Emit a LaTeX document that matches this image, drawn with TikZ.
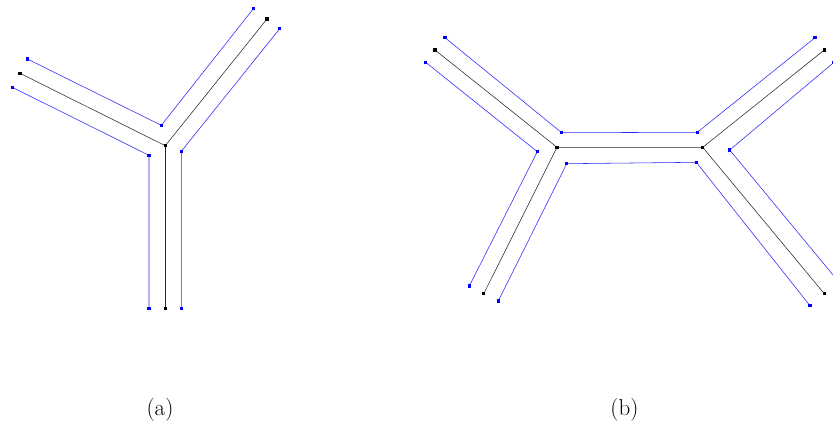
\documentclass[tikz,border=0pt]{standalone}
\begin{document}
\begin{tikzpicture}[x=1pt,y=-1pt,
  bline/.style={draw=blue!85!white,line width=0.55pt},
  kline/.style={draw=black!85,line width=0.55pt},
  bdot/.style={fill=blue,rectangle,minimum size=3.2pt,inner sep=0pt},
  kdot/.style={fill=black,rectangle,minimum size=3.2pt,inner sep=0pt},
  lab/.style={font=\fontsize{23}{28}\selectfont,inner sep=0pt}]
\clip (0,0) rectangle (833,423);
\useasboundingbox (0,0) rectangle (833,423);
% ---------- (a) ----------
\coordinate (K0) at (165.3,145.7);
\coordinate (Ka) at (20,73.3);
\coordinate (Kb) at (267,19);
\coordinate (Kc) at (165.3,308.3);
\coordinate (A1) at (27.3,59);
\coordinate (A2) at (161.3,125.3);
\coordinate (A3) at (253.7,8.3);
\coordinate (B1) at (12.3,87.3);
\coordinate (B2) at (149,155.3);
\coordinate (B3) at (149,308.3);
\coordinate (C1) at (279.7,28.7);
\coordinate (C2) at (181.3,151.3);
\coordinate (C3) at (181.3,308.3);
\draw[kline] (Ka) -- (K0) -- (Kb);
\draw[kline] (K0) -- (Kc);
\draw[bline] (A1) -- (A2) -- (A3);
\draw[bline] (B1) -- (B2) -- (B3);
\draw[bline] (C1) -- (C2) -- (C3);
\foreach \n in {K0,Ka,Kb,Kc} \node[kdot] (d\n) at (\n) {};
\foreach \n in {A1,A2,A3,B1,B2,B3,C1,C2,C3} \node[bdot] (d\n) at (\n) {};
% ---------- (b) ----------
\coordinate (L) at (557,147.3);
\coordinate (R) at (702.7,147.3);
\coordinate (L1) at (435,50);
\coordinate (L2) at (483.7,293.7);
\coordinate (R1) at (824.3,50);
\coordinate (R2) at (824.3,293.7);
\coordinate (U1) at (445,37.7);
\coordinate (U2) at (561.7,132.7);
\coordinate (U3) at (697.3,132.3);
\coordinate (U4) at (815,37.7);
\coordinate (P1) at (425.7,62.3);
\coordinate (P2) at (537.3,151.7);
\coordinate (P3) at (469.3,286);
\coordinate (Q1) at (498.3,301);
\coordinate (Q2) at (566.7,163.7);
\coordinate (Q3) at (696.3,162.3);
\coordinate (Q4) at (810,305.7);
\coordinate (S1) at (834,62.3);
\coordinate (S2) at (729.7,150);
\coordinate (S3) at (838.6,281.7);
\draw[kline] (L1) -- (L) -- (R) -- (R1);
\draw[kline] (L2) -- (L);
\draw[kline] (R) -- (R2);
\draw[bline] (U1) -- (U2) -- (U3) -- (U4);
\draw[bline] (P1) -- (P2) -- (P3);
\draw[bline] (Q1) -- (Q2) -- (Q3) -- (Q4);
\draw[bline] (S1) -- (S2) -- (S3);
\foreach \n in {L,R,L1,L2,R1,R2} \node[kdot] (d\n) at (\n) {};
\foreach \n in {U1,U2,U3,U4,P1,P2,P3,Q1,Q2,Q3,Q4,S1,S2,S3} \node[bdot] (d\n) at (\n) {};
% ---------- labels ----------
\node[lab] (la) at (160,409.5) {(a)};
\node[lab] (lb) at (624.5,409.5) {(b)};
\end{tikzpicture}
\end{document}
